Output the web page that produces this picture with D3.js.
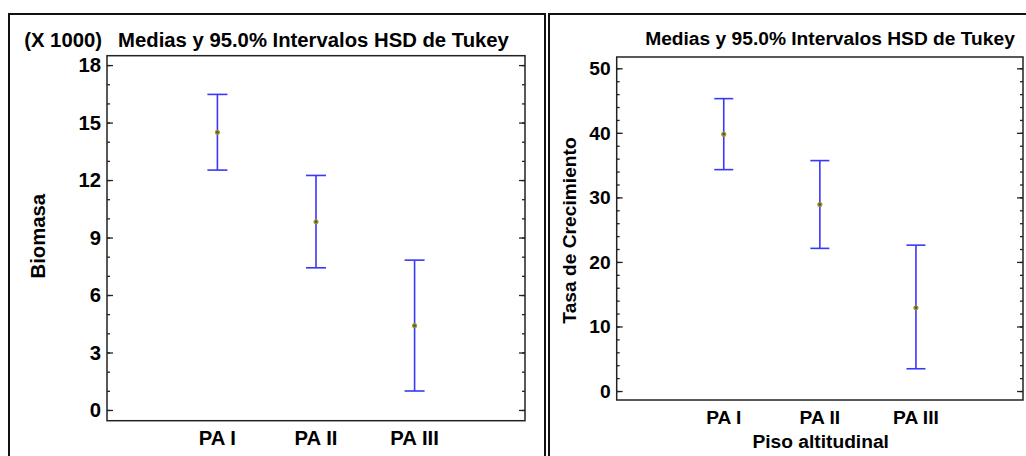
<!DOCTYPE html>
<html><head><meta charset="utf-8">
<script src="https://cdn.jsdelivr.net/npm/d3@7"></script>
<style>
html,body{margin:0;padding:0;background:#fff;}
svg{display:block;font-family:"Liberation Sans",Arial,sans-serif;font-weight:bold;}
</style></head>
<body>
<svg id="chart" width="1026" height="456"></svg>
<script>
const categories = ["PA I", "PA II", "PA III"];
const biomasaMean = [14.49, 9.82, 4.40];
const biomasaLow  = [12.52, 7.42, 0.99];
const biomasaHigh = [16.47, 12.24, 7.82];
const tasaMean = [39.8, 28.9, 12.9];
const tasaLow  = [34.3, 22.1, 3.45];
const tasaHigh = [45.3, 35.7, 22.6];
const biomasaTicks = [0, 3, 6, 9, 12, 15, 18];
const tasaTicks = [0, 10, 20, 30, 40, 50];
const titleText = "Medias y 95.0% Intervalos HSD de Tukey";

const svg = d3.select("#chart");

// outer panel frames
svg.append("rect").attr("x",9).attr("y",14).attr("width",536).attr("height",470)
  .attr("fill","none").attr("stroke","#111").attr("stroke-width",2);
svg.append("rect").attr("x",549).attr("y",14).attr("width",490).attr("height",470)
  .attr("fill","none").attr("stroke","#111").attr("stroke-width",2);

function panel(cfg){
  const g = svg.append("g");
  const x = d3.scaleLinear().domain(cfg.xDomain).range([cfg.left, cfg.right]);
  const y = d3.scaleLinear().domain(cfg.yDomain).range([cfg.bottom, cfg.top]);
  const fs = cfg.fs;

  // plot box
  g.append("rect").attr("x",cfg.left).attr("y",cfg.top)
    .attr("width",cfg.right-cfg.left).attr("height",cfg.bottom-cfg.top)
    .attr("fill","none").attr("stroke","#222").attr("stroke-width",1.5);

  const minor = d3.range(Math.ceil(cfg.yDomain[0]/cfg.minorStep)*cfg.minorStep, cfg.yDomain[1], cfg.minorStep);
  const addTicks = (vals, size) => {
    g.append("g").attr("transform",`translate(${cfg.left},0)`)
      .call(d3.axisRight(y).tickValues(vals).tickSize(size).tickFormat(""))
      .call(a=>a.select(".domain").remove()).selectAll("line").attr("stroke","#222").attr("stroke-width",1.3);
    g.append("g").attr("transform",`translate(${cfg.right},0)`)
      .call(d3.axisLeft(y).tickValues(vals).tickSize(size).tickFormat(""))
      .call(a=>a.select(".domain").remove()).selectAll("line").attr("stroke","#222").attr("stroke-width",1.3);
  };
  addTicks(minor, 3);
  addTicks(cfg.ticks, 6);

  // tick labels
  g.selectAll(".yl").data(cfg.ticks).join("text")
    .attr("x",cfg.left-6).attr("y",d=>y(d)).attr("dy","0.36em")
    .attr("text-anchor","end").attr("font-size",fs).attr("fill","#000").text(d=>d);

  // x labels
  g.selectAll(".xl").data(categories).join("text")
    .attr("x",(d,i)=>x(i+1)).attr("y",cfg.xLabelY).attr("text-anchor","middle")
    .attr("font-size",fs).attr("fill","#000").text(d=>d);

  // error bars
  const cap = cfg.cap;
  const bars = g.append("g").attr("stroke","#3838f8").attr("stroke-width",1.6);
  categories.forEach((c,i)=>{
    const cx = x(i+1);
    bars.append("line").attr("x1",cx).attr("x2",cx).attr("y1",y(cfg.low[i])).attr("y2",y(cfg.high[i]));
    bars.append("line").attr("x1",cx-cap).attr("x2",cx+cap).attr("y1",y(cfg.low[i])).attr("y2",y(cfg.low[i]));
    bars.append("line").attr("x1",cx-cap).attr("x2",cx+cap).attr("y1",y(cfg.high[i])).attr("y2",y(cfg.high[i]));
  });
  g.selectAll(".pt").data(cfg.mean).join("circle")
    .attr("cx",(d,i)=>x(i+1)).attr("cy",d=>y(d)).attr("r",2)
    .attr("fill","#555").attr("stroke","#a0a020").attr("stroke-width",1.1);

  // title
  g.append("text").attr("x",cfg.titleX).attr("y",cfg.titleY).attr("text-anchor","middle")
    .attr("font-size",fs).attr("fill","#000").text(titleText);
  // y label
  g.append("text").attr("transform",`translate(${cfg.yLabelX},${(cfg.top+cfg.bottom)/2+cfg.yLabelDy}) rotate(-90)`)
    .attr("text-anchor","middle").attr("dy","0.35em").attr("font-size",fs).attr("fill","#000").text(cfg.yLabel);
  return {x,y,g};
}

const L = panel({
  left:107, right:525, top:55.7, bottom:420.7,
  xDomain:[1-1.12, 3+1.12], yDomain:[-0.56, 18.49],
  ticks:biomasaTicks, minorStep:1, fs:20.3, cap:10,
  mean:biomasaMean, low:biomasaLow, high:biomasaHigh,
  xLabelY:445, titleX:313.5, titleY:46.5, yLabelX:38, yLabelDy:-2, yLabel:"Biomasa"
});
L.g.append("text").attr("x",102).attr("y",46.5).attr("text-anchor","end")
  .attr("font-size",20.3).attr("fill","#000").text("(X 1000)");

const R = panel({
  left:616.7, right:1023, top:57, bottom:400,
  xDomain:[1-1.114, 3+1.114], yDomain:[-1.39, 51.75],
  ticks:tasaTicks, minorStep:2, fs:19.2, cap:9.5,
  mean:tasaMean, low:tasaLow, high:tasaHigh,
  xLabelY:424, titleX:830, titleY:45, yLabelX:569, yLabelDy:2, yLabel:"Tasa de Crecimiento"
});
R.g.append("text").attr("x",820.7).attr("y",448).attr("text-anchor","middle")
  .attr("font-size",19.2).attr("fill","#000").text("Piso altitudinal");
</script>
</body></html>
